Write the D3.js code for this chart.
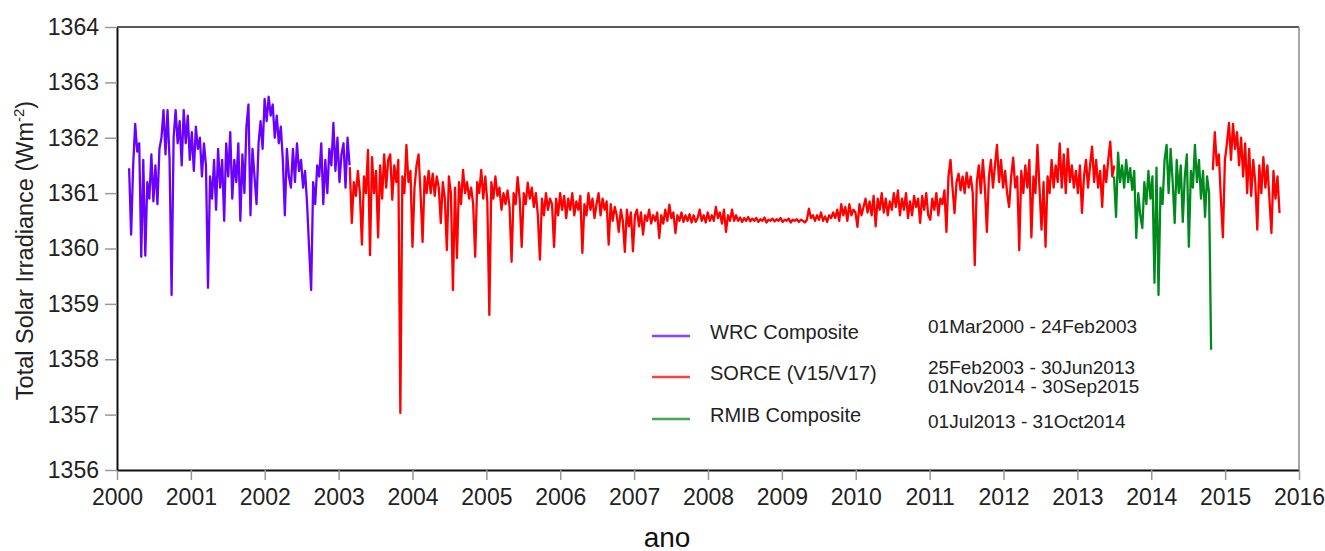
<!DOCTYPE html>
<html>
<head>
<meta charset="utf-8">
<script src="https://cdn.jsdelivr.net/npm/d3@7"></script>
<style>
  body { margin: 0; background: #fff; }
  svg { display: block; overflow: visible; font-family: "Liberation Sans", Arial, Helvetica, sans-serif; }
</style>
</head>
<body>
<div id="chart"></div>
<script>
// Total Solar Irradiance, 10-day samples
const sampleStep = 10 / 365.25;   // years between two samples

const wrcStart = 2000.164;        // 01 Mar 2000
const wrcValues = [
  1361.45, 1360.25, 1361.5, 1362.25, 1361.75, 1361.9, 1359.85, 1361.6, 1359.87, 1361.2,
  1360.9, 1361.7, 1360.85, 1361.5, 1360.8, 1361.8, 1362.0, 1362.5, 1361.7, 1362.5,
  1361.6, 1359.16, 1362.0, 1362.5, 1361.9, 1362.3, 1361.5, 1362.5, 1361.9, 1362.4,
  1361.6, 1362.1, 1361.4, 1362.2, 1361.8, 1362.0, 1361.3, 1361.9, 1361.5, 1359.29,
  1361.3, 1360.9, 1361.6, 1360.7, 1361.8, 1361.1, 1361.6, 1360.5, 1361.9, 1361.3,
  1362.1, 1360.9, 1361.6, 1361.2, 1361.9, 1360.5, 1361.7, 1361.0, 1362.2, 1362.6,
  1360.6, 1361.8, 1361.3, 1360.8, 1361.9, 1362.3, 1361.8, 1362.7, 1362.3, 1362.74,
  1362.4, 1362.6, 1362.0, 1362.4, 1361.9, 1362.2, 1361.6, 1360.6, 1361.8, 1361.3,
  1361.1, 1361.8, 1361.2, 1361.9, 1361.4, 1361.6, 1361.1, 1361.4, 1360.8, 1360.0,
  1359.25, 1361.2, 1360.8, 1361.5, 1361.3, 1361.9, 1360.8, 1361.6, 1361.0, 1361.8,
  1361.5, 1362.27, 1361.4, 1362.0, 1361.2, 1361.7, 1361.9, 1361.1, 1362.0, 1361.5
];

const sorceStart1 = 2003.151;     // 25 Feb 2003
const sorceValues1 = [
  1361.47, 1360.46, 1361.2, 1360.95, 1361.4, 1361.0, 1360.07, 1361.3, 1361.0, 1361.78,
  1359.88, 1361.65, 1361.0, 1361.4, 1360.2, 1361.5, 1360.9, 1361.7, 1361.1, 1361.6,
  1361.7, 1360.88, 1361.5, 1361.2, 1361.6, 1357.03, 1361.3, 1361.0, 1361.87, 1361.2,
  1361.4, 1360.03, 1361.1, 1361.5, 1361.7, 1361.0, 1360.12, 1361.3, 1361.0, 1361.4,
  1361.0, 1361.35, 1360.95, 1361.3, 1361.1, 1360.46, 1361.2, 1360.9, 1359.97, 1361.3,
  1361.0, 1359.25, 1361.1, 1359.83, 1361.2, 1360.8, 1361.42, 1361.0, 1361.2, 1360.9,
  1361.1, 1360.8, 1359.85, 1361.2, 1361.0, 1361.42, 1360.9, 1361.3, 1360.85, 1358.8,
  1361.2, 1360.9, 1361.3, 1360.95, 1361.1, 1360.7, 1361.0, 1360.8, 1361.05, 1360.75,
  1359.76, 1361.0, 1360.8, 1361.29, 1360.9, 1360.03, 1361.0, 1360.8, 1361.19, 1360.9,
  1361.1, 1360.75, 1361.0, 1360.6, 1359.8, 1360.9, 1360.6, 1361.0, 1360.7, 1360.9,
  1360.8, 1360.03, 1360.9, 1360.6, 1361.0, 1360.7, 1360.95, 1360.55, 1360.9, 1360.7,
  1361.0, 1360.6, 1360.85, 1360.7, 1360.95, 1359.92, 1360.8, 1360.6, 1361.0, 1360.7,
  1360.9, 1360.55, 1360.8, 1361.0, 1360.6, 1360.9, 1360.7, 1360.85, 1360.07, 1360.8,
  1360.5, 1360.75, 1360.6, 1360.3, 1360.7, 1360.5, 1359.94, 1360.7, 1360.4, 1360.65,
  1359.95, 1360.6, 1360.7, 1360.4, 1360.65, 1360.25, 1360.6, 1360.5, 1360.7, 1360.45,
  1360.6, 1360.5, 1360.65, 1360.19, 1360.6, 1360.45, 1360.7, 1360.5, 1360.79, 1360.55,
  1360.65, 1360.28, 1360.6, 1360.5, 1360.65, 1360.48, 1360.6, 1360.5, 1360.62, 1360.47,
  1360.6, 1360.48, 1360.55, 1360.7, 1360.5, 1360.6, 1360.47, 1360.65, 1360.5, 1360.6,
  1360.5, 1360.75, 1360.55, 1360.65, 1360.45, 1360.7, 1360.3, 1360.6, 1360.5, 1360.7,
  1360.5, 1360.6, 1360.5, 1360.56, 1360.48, 1360.55, 1360.5, 1360.57, 1360.49, 1360.54,
  1360.5, 1360.55, 1360.48, 1360.53, 1360.5, 1360.56, 1360.47, 1360.52, 1360.5, 1360.54,
  1360.49, 1360.53, 1360.5, 1360.55, 1360.48, 1360.52, 1360.5, 1360.54, 1360.47, 1360.52,
  1360.5, 1360.53, 1360.48, 1360.52, 1360.5, 1360.47, 1360.52, 1360.72, 1360.55, 1360.6,
  1360.5, 1360.6, 1360.52, 1360.65, 1360.5, 1360.58, 1360.48, 1360.6, 1360.55, 1360.65,
  1360.55, 1360.7, 1360.5, 1360.8, 1360.6, 1360.75, 1360.5, 1360.8, 1360.6, 1360.7,
  1360.65, 1360.39, 1360.8, 1360.6, 1360.75, 1360.9, 1360.65, 1360.85, 1360.6, 1360.95,
  1360.4, 1360.9, 1360.7, 1361.0, 1360.65, 1360.9, 1360.6, 1360.85, 1360.7, 1361.0,
  1360.75, 1361.05, 1360.6, 1360.9, 1360.7, 1361.0, 1360.55, 1360.85, 1360.6, 1360.95,
  1360.75, 1360.9, 1360.46, 1360.95, 1360.7, 1361.0, 1360.6, 1360.52, 1360.9, 1360.7,
  1361.0, 1360.6, 1360.9, 1360.8, 1361.05, 1360.3, 1361.3, 1361.6, 1361.1, 1360.64,
  1361.2, 1361.35, 1361.05, 1361.3, 1361.0, 1361.37, 1361.1, 1361.3, 1361.0, 1359.7,
  1361.2, 1361.5, 1361.0, 1361.6, 1361.1, 1360.3, 1361.3, 1361.6, 1361.1, 1361.5,
  1361.87, 1361.2, 1361.6, 1361.1, 1361.4, 1361.0, 1360.75, 1361.3, 1361.64, 1361.1,
  1361.3, 1359.97, 1361.4, 1361.0, 1361.5, 1361.1, 1361.6, 1360.2, 1361.3, 1361.0,
  1361.87, 1361.1, 1360.34, 1361.2, 1360.03, 1361.3, 1361.0, 1361.6, 1361.1, 1361.5,
  1361.2, 1361.9, 1361.1, 1361.7, 1361.0, 1361.8, 1361.2, 1361.5, 1361.1, 1361.4,
  1361.0, 1361.5, 1360.64, 1361.3, 1361.6, 1361.1, 1361.5, 1361.84, 1361.2, 1361.6,
  1361.1, 1361.4, 1360.75, 1361.5, 1361.2, 1361.6, 1361.93, 1361.3, 1361.5
];

const rmibStart = 2013.496;       // 01 Jul 2013
const rmibValues = [
  1361.3, 1360.57, 1361.73, 1361.2, 1361.5, 1361.1, 1361.6, 1361.2, 1361.45, 1361.06,
  1361.4, 1360.19, 1361.0, 1360.6, 1360.37, 1361.2, 1360.8, 1361.4, 1360.9, 1361.3,
  1359.38, 1361.46, 1359.16, 1361.1, 1360.8, 1361.6, 1361.87, 1361.0, 1361.8, 1361.2,
  1360.46, 1361.6, 1361.0, 1361.5, 1360.48, 1361.3, 1361.7, 1360.03, 1361.4, 1361.1,
  1361.87, 1361.2, 1361.6, 1360.9, 1361.4, 1360.57, 1361.3, 1361.0, 1358.17
];

const sorceStart2 = 2014.833;     // 01 Nov 2014
const sorceValues2 = [
  1361.42, 1362.1, 1361.5, 1361.7, 1360.9, 1360.2, 1361.6, 1361.9, 1362.27, 1361.6,
  1362.25, 1361.8, 1362.1, 1361.5, 1362.0, 1361.3, 1361.9, 1361.0, 1361.8, 1360.95,
  1361.6, 1361.2, 1360.34, 1361.5, 1361.0, 1361.65, 1361.1, 1361.5, 1360.9, 1360.28,
  1361.4, 1360.9, 1361.3, 1360.64
];

// Ticks and legend texts
const xTicks = d3.range(2000, 2017);
const yTicks = d3.range(1356, 1365);
const legendNames = ["WRC Composite", "SORCE (V15/V17)", "RMIB Composite"];
const legendColors = ["#6a00ff", "#ff0000", "#008a1e"];
const legendPeriods = [
  ["01Mar2000 - 24Feb2003"],
  ["25Feb2003 - 30Jun2013", "01Nov2014 - 30Sep2015"],
  ["01Jul2013 - 31Oct2014"]
];

const width = 1325;
const height = 551;
const margin = {top: 27, right: 26, bottom: 81, left: 117};
const innerWidth = width - margin.left - margin.right;
const innerHeight = height - margin.top - margin.bottom;

const series = [
  {start: wrcStart, values: wrcValues, color: legendColors[0]},
  {start: sorceStart1, values: sorceValues1, color: legendColors[1]},
  {start: rmibStart, values: rmibValues, color: legendColors[2]},
  {start: sorceStart2, values: sorceValues2, color: legendColors[1]}
];


/*******************************/
/*    Append the containers    */
/*******************************/
const svg = d3.select("#chart")
  .append("svg")
    .attr("width", width)
    .attr("height", height)
    .attr("viewBox", `0, 0, ${width}, ${height}`);

const innerChart = svg
  .append("g")
    .attr("transform", `translate(${margin.left}, ${margin.top})`);


/****************************/
/*    Declare the scales    */
/****************************/
const xScale = d3.scaleLinear()
  .domain([2000, 2016])
  .range([0, innerWidth]);

const yScale = d3.scaleLinear()
  .domain([1356, 1364])
  .range([innerHeight, 0]);


/***************************/
/*     Append the axes     */
/***************************/
const bottomAxis = d3.axisBottom(xScale)
  .tickValues(xTicks)
  .tickFormat(d3.format("d"))
  .tickSizeInner(10)
  .tickSizeOuter(0)
  .tickPadding(9);
const xAxisG = innerChart
  .append("g")
    .attr("class", "axis-x")
    .attr("transform", `translate(0, ${innerHeight})`)
    .call(bottomAxis);

const leftAxis = d3.axisLeft(yScale)
  .tickValues(yTicks)
  .tickFormat(d3.format("d"))
  .tickSizeInner(12)
  .tickSizeOuter(0)
  .tickPadding(6);
const yAxisG = innerChart
  .append("g")
    .attr("class", "axis-y")
    .call(leftAxis);

[xAxisG, yAxisG].forEach(g => {
  g.select(".domain").attr("stroke", "#111").attr("stroke-width", 2);
  g.selectAll(".tick line").attr("stroke", "#999").attr("stroke-width", 1.5);
  g.selectAll(".tick text")
    .attr("fill", "#222")
    .style("font-size", "23px")
    .style("font-family", "'Liberation Sans', Arial, sans-serif");
});

// Top and right frame
innerChart.append("line")
  .attr("x1", 0).attr("x2", innerWidth)
  .attr("y1", 0).attr("y2", 0)
  .attr("stroke", "#222").attr("stroke-width", 1.5);
innerChart.append("line")
  .attr("x1", innerWidth).attr("x2", innerWidth)
  .attr("y1", 0).attr("y2", innerHeight)
  .attr("stroke", "#888").attr("stroke-width", 1.5);

// Axis titles
svg.append("text")
  .attr("x", 667)
  .attr("y", 547)
  .attr("text-anchor", "middle")
  .attr("fill", "#111")
  .style("font-size", "28px")
  .text("ano");

const yTitle = svg.append("text")
  .attr("transform", `translate(33, ${margin.top + innerHeight / 2 + 2}) rotate(-90)`)
  .attr("text-anchor", "middle")
  .attr("fill", "#222")
  .style("font-size", "23.5px");
yTitle.append("tspan").text("Total Solar Irradiance (Wm");
yTitle.append("tspan").attr("dy", -9).style("font-size", "15px").text("-2");
yTitle.append("tspan").attr("dy", 9).text(")");


/******************************/
/*      Append the lines      */
/******************************/
const lineGenerator = d3.line()
  .x(d => xScale(d.t))
  .y(d => yScale(d.v));

innerChart
  .selectAll(".tsi")
  .data(series)
  .join("path")
    .attr("class", "tsi")
    .attr("fill", "none")
    .attr("stroke", d => d.color)
    .attr("stroke-width", 2.3)
    .attr("stroke-linejoin", "round")
    .attr("d", d => lineGenerator(d.values.map((v, i) => ({t: d.start + i * sampleStep, v: v}))));


/******************************/
/*      Append the legend     */
/******************************/
const legendY = [336, 377, 419];
const legend = svg
  .selectAll(".legend-item")
  .data(legendNames)
  .join("g")
    .attr("class", "legend-item")
    .attr("transform", (d, i) => `translate(652, ${legendY[i]})`);

legend.append("line")
  .attr("x1", 0).attr("x2", 38)
  .attr("stroke", (d, i) => legendColors[i])
  .attr("stroke-width", 2.5)
  .attr("stroke-opacity", 0.75);

legend.append("text")
  .attr("x", 58)
  .attr("y", -2)
  .attr("dominant-baseline", "middle")
  .attr("fill", "#222")
  .style("font-size", "20px")
  .text(d => d);

const periodLines = [[328], [369, 388], [423]];
legendPeriods.forEach((lines, i) => {
  lines.forEach((txt, j) => {
    svg.append("text")
      .attr("x", 928)
      .attr("y", periodLines[i][j])
      .attr("dominant-baseline", "middle")
      .attr("fill", "#222")
      .style("font-size", "19px")
      .text(txt);
  });
});
</script>
</body>
</html>
